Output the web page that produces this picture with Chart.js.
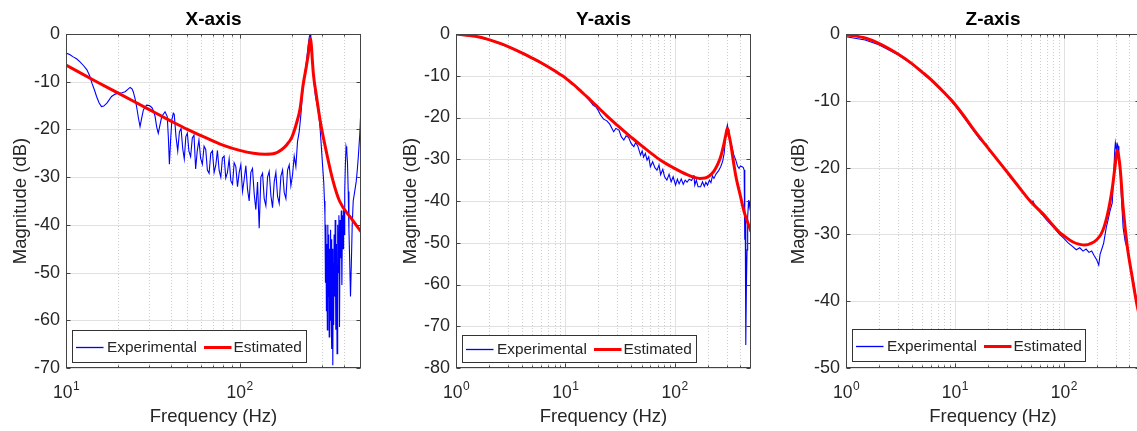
<!DOCTYPE html>
<html>
<head>
<meta charset="utf-8">
<script src="https://cdn.jsdelivr.net/npm/chart.js@4"></script>
<style>
    html, body { margin: 0; padding: 0; background: #fff; overflow: hidden; }
    #wrap { position: relative; width: 1137px; height: 431px; overflow: hidden; }
    canvas { position: absolute; top: 0; }
</style>
</head>
<body>
<div id="wrap">
    <canvas id="chartX" width="380" height="431" style="left:0"></canvas>
    <canvas id="chartY" width="380" height="431" style="left:380px"></canvas>
    <canvas id="chartZ" width="400" height="431" style="left:760px"></canvas>
</div>
<script>
// ---- data ----
const seriesNames = ['Experimental', 'Estimated'];
const panelTitles = ['X-axis', 'Y-axis', 'Z-axis'];

// X-axis
const xFreqExp = [10, 10.5, 11, 11.5, 12, 12.6, 13.2, 13.7, 14.1, 14.6, 15, 15.5, 16, 16.5, 17.2, 18.3, 19.2, 20, 21, 21.9,
    22.7, 23.4, 24, 24.4, 25, 25.5, 26.1, 26.7, 27.3, 27.9, 29.1, 30.2, 31.2, 32, 32.6, 33.3, 34, 34.8, 35.6, 37.2,
    38.3, 38.9, 39.4, 40, 40.7, 41.5,
    42, 43, 44, 45, 46, 47, 48, 49, 50, 51, 52.2, 53.4, 54.6, 55.8, 57, 58.3, 59.6, 61, 62.4, 63.8,
    65.2, 66.7, 68.2, 69.7, 71.3, 72.9, 74.5, 76.2, 77.9, 79.6, 81.4, 83.2, 85.1, 87, 89, 91, 93, 95.1, 97.2, 99.4,
    101.6, 103.9, 106.2, 108.6, 111, 113.5, 116, 118.6, 121.3, 124, 126.8, 129.6, 132.5, 135.5, 138.5, 141.6, 144.8, 148, 151.3, 154.7,
    158.2, 161.7, 165.3, 169, 172.8, 176.7, 180.6, 184.7, 188.8, 193, 197.3, 201.7, 206.2, 210.8, 215.5, 220.3, 225.2, 230.2,
    238, 243, 248, 252, 255, 257, 260, 263, 268, 273, 280, 286, 291, 296, 301,
    305, 308, 310, 312, 314, 316, 318, 320, 322, 324, 326, 328, 330, 332, 334, 336, 338, 340, 342, 344,
    346, 348, 350, 352, 355, 358, 361, 364, 367, 370, 373, 376, 379, 382, 385, 388, 391, 394, 397, 400,
    403, 406, 410, 414, 418, 422, 426, 430, 435, 440, 445, 451, 460, 469, 476, 483, 492, 500];
const xMagExp = [-4, -4.3, -4.8, -5.2, -5.8, -6.6, -7.5, -8.8, -10.3, -11.8, -13.1, -14.4, -15.2, -15.1, -14.5, -13.1, -12.6, -12.4, -12.3, -12.1,
    -11.6, -11.2, -11.5, -12.1, -13.6, -15.2, -17.5, -19.4, -17.6, -15.9, -14.9, -15, -15.4, -16.2, -17.3, -19.5, -20.8, -19, -17.3, -16.3,
    -17.3, -22, -27.3, -22.5, -18, -16.6,
    -16.8, -21.5, -24.5, -20.5, -19.8, -24, -26.2, -21.5, -20.8, -24.5, -25.7, -21.8, -21.2, -28.3, -24.5, -22.2, -26, -27.3, -23.5, -24.2,
    -28.5, -29.2, -25, -24.5, -29, -27.5, -24.4, -28.6, -30, -26, -25.6, -30.2, -29, -26.2, -30.8, -31.5, -27, -27.8, -32, -29,
    -27.4, -33, -30.5, -27.6, -32.5, -35, -29, -28.2, -33.5, -36.8, -31, -40.7, -30, -29.2, -34.5, -36, -30, -28.8, -33.8, -36.4,
    -31, -29, -34, -35.5, -29.8, -28.5, -33.2, -34.5, -28.5, -27.4, -31.8, -29.5, -25.6, -27.8, -22.5, -20.5, -17, -12.5,
    -8, -5.5, -2.5, -0.6, 0, -1.5, -3.5, -5.5, -10, -13, -15, -17, -20, -24, -28,
    -31, -35, -38, -52, -40, -58, -44, -62, -40, -55, -42, -63.5, -45, -60, -41, -57, -43, -66, -45, -69.4,
    -48, -61, -42, -55, -39, -62, -44, -67, -40, -50, -38, -61.4, -39, -47, -37, -52.6, -38, -45, -36.5, -42,
    -33, -28, -23.6, -24.5, -27, -33, -41, -47, -55, -48, -40, -35, -33, -31, -28.5, -25.5, -21, -15.2];
const xFreqEst = [10, 15, 20, 30, 40, 50, 60, 70, 80, 100, 120, 140, 160, 175, 187, 200, 213, 223, 232, 243,
    250, 253, 256, 259, 262, 266, 276, 291, 318, 345, 376, 434, 500];
const xMagEst = [-6.5, -10, -12.4, -15.8, -18.2, -20, -21.3, -22.4, -23.3, -24.4, -25, -25.2, -25, -24.2, -23.2, -21.6, -18.6, -15.6, -10.7, -6.5,
    -3.5, -1.8, -0.9, -2.5, -5.2, -8.4, -12.6, -18.2, -25.2, -30.8, -35, -38.4, -41.4];

// Y-axis
const yFreqExp = [1, 1.5, 2, 3, 4, 5, 6, 7, 8, 9, 10, 11, 12, 13, 14, 15, 16, 17, 18, 19,
    20, 21, 22.4, 24, 25.5, 27.7, 29, 31, 32.5, 34.3, 36, 38, 40, 42.4, 44, 46, 48.8, 50.5, 52, 54,
    56, 58, 60, 63, 66, 69, 72, 74.5, 78, 81, 85, 89, 93, 97, 102, 106, 110, 115, 120, 125,
    130, 136, 143, 148, 150, 153, 158, 164, 173, 180, 187, 193, 200, 208, 215, 222, 229, 240, 252, 264,
    275, 284, 292, 298, 304, 308, 314, 322, 335, 348, 363, 376, 389, 400, 415, 425, 433, 437, 440, 443,
    446, 450, 454, 460, 466, 475, 482, 490, 497, 505];
const yMagExp = [-0.1, -0.6, -1.4, -3.1, -4.6, -5.9, -7, -8, -8.9, -9.7, -10.4, -11.3, -12.1, -12.9, -13.7, -14.6, -15.4, -16.2, -17.1, -17.4,
    -18.3, -19.4, -20.4, -20.8, -21.6, -23.4, -22.6, -23, -24.6, -25.4, -24.4, -24.8, -26.2, -27, -26, -26.8, -29, -28, -29.5, -28.6,
    -30.2, -29.4, -31.8, -30.6, -32, -32.6, -31.4, -33.7, -32.4, -34.2, -35, -33.6, -35.4, -34.2, -36.2, -34.8, -35.9, -34.7, -36, -35,
    -35.5, -34.8, -35.1, -34.3, -33.8, -36.2, -35, -36.6, -36.6, -35.4, -36.5, -35.5, -36.2, -35, -35.6, -34, -34.6, -33.5, -32.8, -31.8,
    -30.5, -28.6, -25, -23, -21.8, -22.8, -23.4, -25.6, -27, -29, -30.2, -31.6, -32.2, -31.6, -31.8, -32, -32.6, -40, -49.3, -44,
    -46, -74.5, -60, -51.7, -44, -39.8, -41.4, -40, -38.8, -42.5];
const yFreqEst = [1, 1.5, 2, 2.5, 3, 4, 5, 6, 7, 8, 9, 10, 11, 12, 13, 14, 16, 18, 20, 24,
    30, 37, 47, 60, 75, 100, 130, 150, 170, 190, 210, 230, 250, 264, 280, 294, 304, 315, 326, 345,
    363, 400, 433, 470, 500];
const yMagEst = [0, -0.55, -1.35, -2.2, -3, -4.5, -5.8, -6.9, -7.9, -8.8, -9.7, -10.5, -11.4, -12.2, -13, -13.8, -15.2, -16.5, -17.6, -19.6,
    -21.9, -24, -26.2, -28.4, -30.3, -32.2, -33.7, -34.3, -34.6, -34.5, -33.9, -32.8, -31, -29.4, -26.8, -24.2, -22.6, -24.3, -26.2, -30.5,
    -34, -38.8, -42.6, -45.4, -47.3];

// Z-axis
const zFreqExp = [1, 1.5, 2, 3, 4, 5, 6, 8, 10, 12, 15, 17, 18.5, 19.5, 20.5, 22, 25, 28, 30, 32,
    35, 40, 45, 50, 52, 55, 60, 70, 80, 90, 100, 110, 120, 130, 140, 150, 160, 170, 180, 190,
    200, 209, 215, 225, 232, 245, 255, 265, 278, 287, 293, 297, 301, 305, 310, 315, 320, 330, 340, 350,
    365, 382, 400, 430, 472, 500];
const zMagExp = [-0.4, -0.9, -1.6, -3.1, -4.5, -5.8, -6.9, -8.9, -10.7, -12.4, -14.6, -15.8, -16.3, -16.5, -17.4, -17.9, -19, -20.1, -20.6, -21.4,
    -22.1, -23.3, -24.3, -25.3, -25, -25.9, -26.6, -27.9, -28.9, -29.9, -30.6, -31.3, -31.8, -32.3, -32, -32.5, -32.2, -32.7, -32.5, -33.2,
    -33.8, -34.6, -33, -32, -31.3, -29, -27.8, -26.5, -25.3, -21, -17.5, -16.3, -17, -17.6, -16.5, -16.8, -18.5, -21, -25.5, -29,
    -31, -32.2, -34, -36.5, -40.5, -42];
const zFreqEst = [1, 1.5, 2, 3, 4, 5, 6, 8, 9.4, 12, 15, 20, 28, 35, 49, 65, 80, 90, 100, 120,
    140, 155, 180, 200, 219, 235, 250, 265, 280, 295, 309, 318, 330, 350, 382, 420, 472, 500];
const zMagEst = [-0.1, -0.6, -1.4, -3, -4.4, -5.7, -6.8, -8.8, -10, -12.2, -14.4, -17, -20, -22, -25, -27, -28.7, -29.6, -30.2, -31.1,
    -31.5, -31.6, -31.3, -30.8, -30, -28.8, -27.2, -25.2, -22.8, -19.8, -17.4, -18.2, -20.4, -26, -31.8, -36, -40.8, -42.5];

// axis ticks
const yTicksX = [0, -10, -20, -30, -40, -50, -60, -70];
const yTicksY = [0, -10, -20, -30, -40, -50, -60, -70, -80];
const yTicksZ = [0, -10, -20, -30, -40, -50];
const xDecadesX = [1, 2];
const xDecadesYZ = [0, 1, 2];

Chart.defaults.font.family = "'Liberation Sans', Arial, Helvetica, sans-serif";
Chart.defaults.color = '#262626';

const TXT = '#262626';

function minorValues(min, max) {
    const out = [];
    for (let d = Math.floor(Math.log10(min)); d <= Math.ceil(Math.log10(max)); d++) {
        for (let m = 2; m <= 9; m++) {
            const v = m * Math.pow(10, d);
            if (v > min && v < max) out.push(v);
        }
    }
    return out;
}

function seg(ctx, x1, y1, x2, y2) {
    ctx.beginPath();
    ctx.moveTo(x1, y1);
    ctx.lineTo(x2, y2);
    ctx.stroke();
}

// MATLAB-like grid, box, tick marks, x labels and legend
const matlabAxes = {
    id: 'matlabAxes',
    beforeDatasetsDraw(chart, args, opts) {
        const {ctx, chartArea: a, scales: {x, y}} = chart;
        const top = Math.round(a.top), bot = Math.round(a.bottom);
        ctx.save();
        ctx.lineWidth = 1;
        ctx.strokeStyle = '#cdcdcd';
        ctx.setLineDash([1, 2]);
        minorValues(x.min, x.max).forEach(v => {
            const px = Math.round(x.getPixelForValue(v)) + 0.5;
            seg(ctx, px, top, px, bot);
        });
        ctx.setLineDash([]);
        ctx.strokeStyle = '#e1e1e1';
        opts.decades.forEach(d => {
            const v = Math.pow(10, d);
            if (v <= x.min || v >= x.max) return;
            const px = Math.round(x.getPixelForValue(v)) + 0.5;
            seg(ctx, px, top, px, bot);
        });
        y.ticks.forEach(t => {
            const py = Math.round(y.getPixelForValue(t.value)) + 0.5;
            seg(ctx, a.left, py, a.right, py);
        });
        ctx.restore();
    },
    afterDatasetsDraw(chart, args, opts) {
        const {ctx, chartArea: a, scales: {x, y}} = chart;
        const l = Math.round(a.left) + 0.5, r = Math.round(a.right) - 0.5;
        const t = Math.round(a.top) + 0.5, b = Math.round(a.bottom) - 0.5;
        ctx.save();
        ctx.lineWidth = 1;
        ctx.strokeStyle = '#444';
        ctx.strokeRect(l, t, r - l, b - t);

        // tick marks, inside
        y.ticks.forEach(tk => {
            const py = Math.round(y.getPixelForValue(tk.value)) + 0.5;
            seg(ctx, l, py, l + 4, py);
            seg(ctx, r - 4, py, r, py);
        });
        opts.decades.forEach(d => {
            const px = Math.round(x.getPixelForValue(Math.pow(10, d))) + 0.5;
            seg(ctx, px, b, px, b - 4);
            seg(ctx, px, t, px, t + 4);
        });
        minorValues(x.min, x.max).forEach(v => {
            const px = Math.round(x.getPixelForValue(v)) + 0.5;
            seg(ctx, px, b, px, b - 2);
            seg(ctx, px, t, px, t + 2);
        });

        // x tick labels 10^n
        ctx.fillStyle = TXT;
        ctx.textBaseline = 'alphabetic';
        ctx.textAlign = 'left';
        const baseFont = "17.5px 'Liberation Sans', Arial, sans-serif";
        const expFont = "12px 'Liberation Sans', Arial, sans-serif";
        opts.decades.forEach(d => {
            const px = x.getPixelForValue(Math.pow(10, d));
            ctx.font = baseFont;
            const w1 = ctx.measureText('10').width;
            ctx.font = expFont;
            const w2 = ctx.measureText(String(d)).width;
            const x0 = px - (w1 + w2) / 2;
            ctx.font = baseFont;
            ctx.fillText('10', x0, 398);
            ctx.font = expFont;
            ctx.fillText(String(d), x0 + w1 + 0.5, 390);
        });

        // legend box
        const lg = opts.legend;
        const bx = Math.round(a.left + lg.dx) + 0.5;
        const by = Math.round(a.bottom - lg.dy - lg.h) + 0.5;
        ctx.fillStyle = '#fff';
        ctx.fillRect(bx, by, lg.w, lg.h);
        ctx.strokeStyle = '#333';
        ctx.strokeRect(bx, by, lg.w, lg.h);
        const cy = Math.round(by + lg.h / 2) + 0.5;
        ctx.strokeStyle = '#0000ff';
        ctx.lineWidth = 1.3;
        seg(ctx, bx + 3.5, cy, bx + 31, cy);
        ctx.strokeStyle = '#ff0000';
        ctx.lineWidth = 3;
        seg(ctx, bx + 131.5, cy, bx + 159, cy);
        ctx.fillStyle = TXT;
        ctx.font = "15.4px 'Liberation Sans', Arial, sans-serif";
        ctx.textBaseline = 'middle';
        ctx.fillText(seriesNames[0], bx + 34.5, cy + 0.5);
        ctx.fillText(seriesNames[1], bx + 161, cy + 0.5);
        ctx.restore();
    }
};

function pairs(fs, ms) {
    return fs.map((f, i) => ({x: f, y: ms[i]}));
}

function makePanel(id, title, fExp, mExp, fEst, mEst, xMin, yTicks, decades, axisW, padR, yTitlePad, legend) {
    new Chart(document.getElementById(id), {
        type: 'line',
        data: {
            datasets: [{
                label: seriesNames[1],
                data: pairs(fEst, mEst),
                borderColor: '#ff0000',
                borderWidth: 3,
                pointRadius: 0,
                cubicInterpolationMode: 'monotone',
                order: 0,
            }, {
                label: seriesNames[0],
                data: pairs(fExp, mExp),
                borderColor: '#0000ff',
                borderWidth: 1.1,
                pointRadius: 0,
                tension: 0,
                order: 1,
            }]
        },
        options: {
            responsive: false,
            animation: false,
            devicePixelRatio: 1,
            events: [],
            layout: { padding: { left: 0, right: padR, top: 0, bottom: 0 } },
            plugins: {
                legend: { display: false },
                tooltip: { enabled: false },
                title: {
                    display: true,
                    text: title,
                    fullSize: false,
                    color: '#000',
                    font: { size: 19, weight: 'bold', lineHeight: 1 },
                    padding: { top: 10.5, bottom: 4.5 }
                },
                matlabAxes: { decades: decades, legend: legend }
            },
            scales: {
                x: {
                    type: 'logarithmic',
                    min: xMin,
                    max: 500,
                    grid: { display: false, drawTicks: false },
                    border: { display: false },
                    ticks: { display: false },
                    title: {
                        display: true,
                        text: 'Frequency (Hz)',
                        color: TXT,
                        font: { size: 18.5 },
                        padding: { top: 0, bottom: 3 }
                    },
                    afterFit: s => { s.height = 63; }
                },
                y: {
                    min: yTicks[yTicks.length - 1],
                    max: 0,
                    grid: { display: false, drawTicks: false },
                    border: { display: false },
                    afterBuildTicks: s => { s.ticks = yTicks.map(v => ({value: v})); },
                    ticks: { color: TXT, font: { size: 18 }, padding: 6 },
                    title: {
                        display: true,
                        text: 'Magnitude (dB)',
                        color: TXT,
                        font: { size: 18.5 },
                        padding: { top: yTitlePad, bottom: 0 }
                    },
                    afterFit: s => { s.width = axisW; }
                }
            }
        },
        plugins: [matlabAxes]
    });
}

makePanel('chartX', panelTitles[0], xFreqExp, xMagExp, xFreqEst, xMagEst, 10, yTicksX, xDecadesX, 66, 19, 9.4,
    { dx: 5.7, dy: 6.3, w: 234, h: 32 });
makePanel('chartY', panelTitles[1], yFreqExp, yMagExp, yFreqEst, yMagEst, 1, yTicksY, xDecadesYZ, 76, 9, 19.4,
    { dx: 5.7, dy: 6.3, w: 234, h: 27 });
makePanel('chartZ', panelTitles[2], zFreqExp, zMagExp, zFreqEst, zMagEst, 1, yTicksZ, xDecadesYZ, 86, 20, 28.2,
    { dx: 6, dy: 6.7, w: 233, h: 32 });
</script>
</body>
</html>
